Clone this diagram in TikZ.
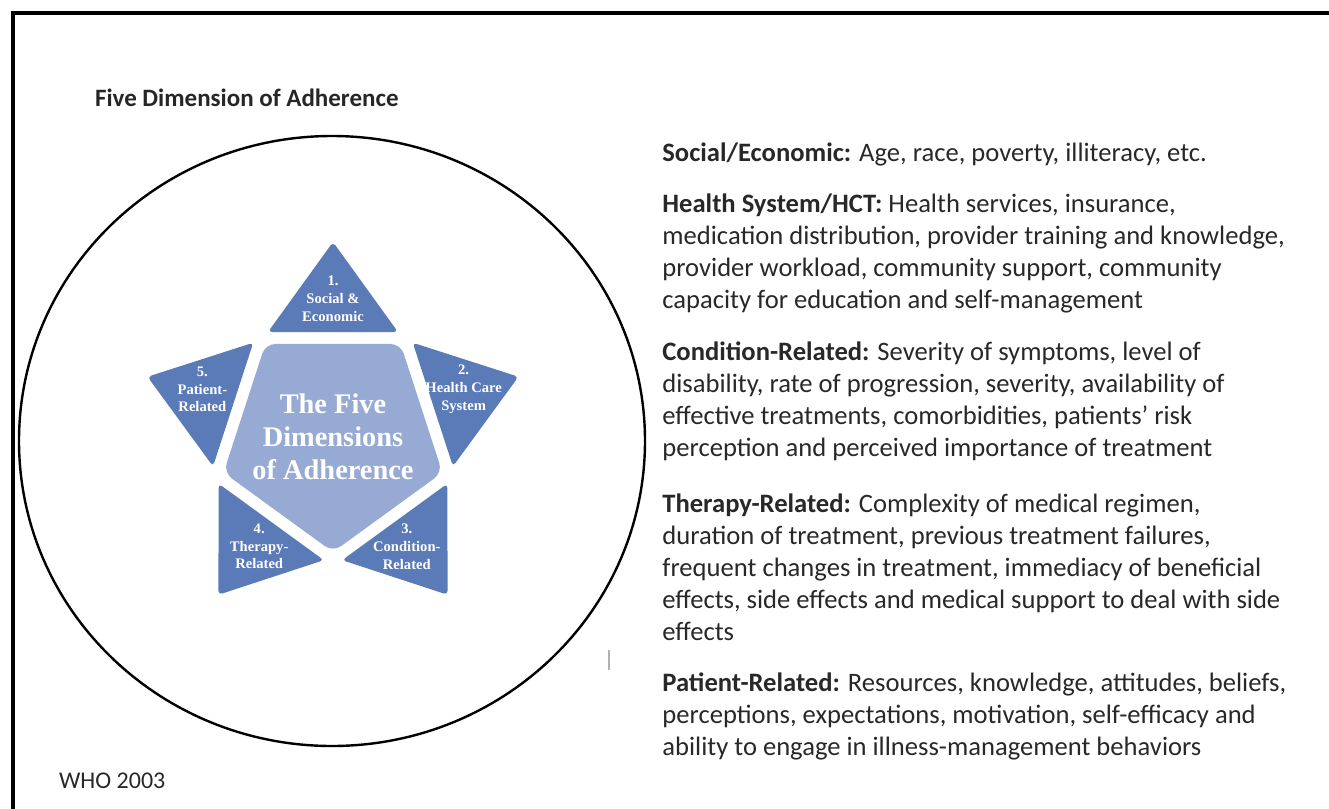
\documentclass[tikz,border=0pt]{standalone}
\usepackage{fontspec}
\setmainfont{Carlito}
\newfontfamily\starfont{Liberation Serif}
\usetikzlibrary{positioning}

\definecolor{pointblue}{RGB}{90,123,183}
\definecolor{coreblue}{RGB}{150,170,211}
\definecolor{bodygray}{RGB}{40,40,40}

\tikzset{
  point/.style={fill=pointblue, rounded corners=2pt},
  core/.style={fill=coreblue, rounded corners=5pt},
  pointlabel/.style={text=white, font=\starfont\bfseries\fontsize{7.3}{8.9}\selectfont, align=center, inner sep=0pt},
  corelabel/.style={text=white, font=\starfont\bfseries\fontsize{14.2}{16.4}\selectfont, align=center, inner sep=0pt},
  dimtext/.style={anchor=north west, align=left, inner sep=0pt, text=bodygray, font=\fontsize{13.3}{16.1}\selectfont},
}

\begin{document}
\begin{tikzpicture}[x=0.5pt, y=-0.5pt]
  \useasboundingbox (0,0) rectangle (1329,809);

  % frame (only top and left edges show)
  \draw[line width=2pt] (13,809) -- (13,13) -- (1329,13);

  \node[anchor=west, text=black!85, font=\bfseries\fontsize{12.5}{15}\selectfont] (title) at (88,98) {Five Dimension of Adherence};

  \draw[line width=1.2pt] (332,441) ellipse (313 and 305);
  \draw[gray!60, line width=0.8pt] (609,650) -- (609,670);

  % the star
  \begin{scope}[shift={(333,437)}]
    \foreach \k in {0,...,4} {
      \pgfmathsetmacro{\a}{270+72*\k}
      \fill[point] (\a:195) -- (\a+31.76:123.5) -- (\a-31.76:123.5) -- cycle;
    }
    \fill[core] (90:115) -- (162:115) -- (234:115) -- (306:115) -- (18:115) -- cycle;

    \node[corelabel] (centre) at (0,0) {The Five\\Dimensions\\of Adherence};
    \node[pointlabel] (social) at (270:138) {1.\\Social \&\\Economic};
    \node[pointlabel] (health) at (340:139) {2.\\Health Care\\System};
    \node[pointlabel] (condition) at (56:132) {3.\\Condition-\\Related};
    \node[pointlabel] (therapy) at (124:132) {4.\\Therapy-\\Related};
    \node[pointlabel] (patient) at (200:139) {5.\\Patient-\\Related};
  \end{scope}

  % the five dimensions, described
  \node[dimtext] (socialtxt) at (662,142) {\textbf{Social/Economic:} Age, race, poverty, illiteracy, etc.};
  \node[dimtext] (healthtxt) at (662,193) {\textbf{Health System/HCT:} Health services, insurance,\\
    medication distribution, provider training and knowledge,\\
    provider workload, community support, community\\
    capacity for education and self-management};
  \node[dimtext] (conditiontxt) at (662,341) {\textbf{Condition-Related:} Severity of symptoms, level of\\
    disability, rate of progression, severity, availability of\\
    effective treatments, comorbidities, patients' risk\\
    perception and perceived importance of treatment};
  \node[dimtext] (therapytxt) at (662,493) {\textbf{Therapy-Related:} Complexity of medical regimen,\\
    duration of treatment, previous treatment failures,\\
    frequent changes in treatment, immediacy of beneficial\\
    effects, side effects and medical support to deal with side\\
    effects};
  \node[dimtext] (patienttxt) at (662,672) {\textbf{Patient-Related:} Resources, knowledge, attitudes, beliefs,\\
    perceptions, expectations, motivation, self-efficacy and\\
    ability to engage in illness-management behaviors};

  \node[anchor=west, text=bodygray, font=\fontsize{12}{14}\selectfont] (source) at (52,781) {WHO 2003};
\end{tikzpicture}
\end{document}
